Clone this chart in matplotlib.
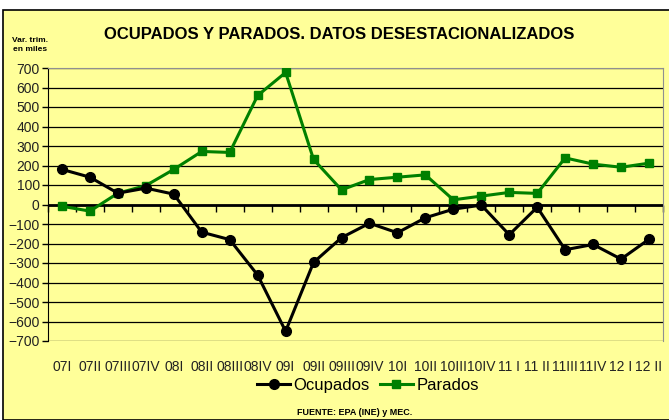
import numpy as np
import matplotlib
matplotlib.use("Agg")
import matplotlib.pyplot as plt
from matplotlib.patches import Rectangle
from matplotlib.lines import TICKDOWN

# ─── Data (variación trimestral, miles) ──────────────────────────────────────
quarters = ["07I", "07II", "07III", "07IV", "08I", "08II", "08III", "08IV",
            "09I", "09II", "09III", "09IV", "10I", "10II", "10III", "10IV",
            "11 I", "11 II", "11III", "11IV", "12 I", "12 II"]
ocupados = [180, 140, 58, 84, 53, -142, -180, -362, -650, -297, -170, -96,
            -145, -68, -24, -3, -155, -14, -232, -205, -280, -178]
parados = [-9, -34, 58, 97, 180, 272, 267, 559, 677, 231, 75, 128,
           140, 152, 24, 43, 62, 57, 239, 207, 191, 212]
yticks = list(range(-700, 701, 100))

BG = "#FFFF99"
GREEN = "#008000"

plt.rcParams["font.family"] = ["Liberation Sans Narrow", "Liberation Sans", "DejaVu Sans"]

fig = plt.figure(figsize=(6.69, 4.20), dpi=100, facecolor="white")
# yellow chart area with black frame
fig.patches.append(Rectangle((3 / 669, 0), 1, 1 - 10 / 420, transform=fig.transFigure,
                             facecolor=BG, edgecolor="black", linewidth=1.2, zorder=-1))

ax = fig.add_axes([48 / 669, 79 / 420, 615 / 669, 273 / 420])
ax.set_facecolor(BG)

x = np.arange(len(quarters))
ax.plot(x, ocupados, color="black", lw=2.2, marker="o", ms=7, label="Ocupados", zorder=4)
ax.plot(x, parados, color=GREEN, lw=2.2, marker="s", ms=5.5, label="Parados", zorder=3)

ax.set_xlim(-0.5, len(quarters) - 0.5)
ax.set_ylim(-700, 700)
ax.set_yticks(yticks)
ax.yaxis.grid(True, color="black", lw=0.9)
ax.set_axisbelow(True)
ax.tick_params(axis="y", direction="out", length=4, width=1, labelsize=10, pad=2,
               labelcolor="#222222")

ax.set_xticks(x)
ax.set_xticklabels(quarters, fontsize=10, color="#222222")
ax.tick_params(axis="x", length=0, pad=14)

for side in ("top", "right"):
    ax.spines[side].set_color("#909090")
ax.spines["bottom"].set_visible(False)
ax.spines["left"].set_color("black")

# zero line with tick marks at category boundaries
ax.axhline(0, color="black", lw=2, zorder=2)
bounds = np.arange(len(quarters) + 1) - 0.5
ax.plot(bounds, np.zeros_like(bounds), ls="none", marker=TICKDOWN, ms=5,
        mew=1, color="black", clip_on=False, zorder=2)

fig.text(0.507, 0.918, "OCUPADOS Y PARADOS. DATOS DESESTACIONALIZADOS",
         ha="center", va="center", fontsize=12, fontweight="bold",
         family=["Liberation Sans", "DejaVu Sans"])
fig.text(0.045, 0.893, "Var. trim.\nen miles", ha="center", va="center",
         fontsize=6, fontweight="bold", linespacing=1.4,
         family=["Liberation Sans", "DejaVu Sans"])

handles, labels = ax.get_legend_handles_labels()
leg = fig.legend(handles, labels, loc="center", bbox_to_anchor=(0.55, 0.082), ncol=2,
                 frameon=False, fontsize=12, handlelength=2, handletextpad=0.2,
                 columnspacing=0.6)

fig.text(0.53, 0.017, "FUENTE: EPA (INE) y MEC.", ha="center", va="center",
         fontsize=6.5, fontweight="bold", family=["Liberation Sans", "DejaVu Sans"])

fig.savefig("out.png", dpi=100, facecolor="white")
